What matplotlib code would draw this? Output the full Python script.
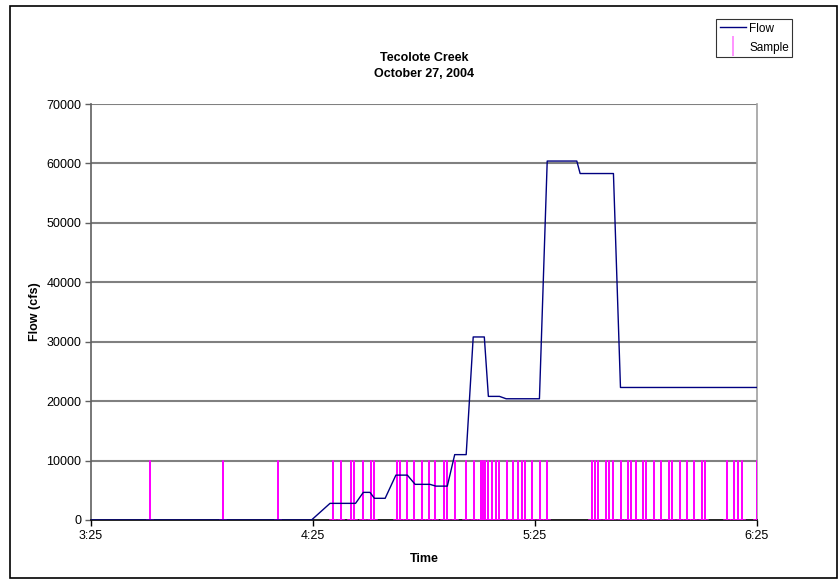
import numpy as np
import matplotlib
matplotlib.use('Agg')
import matplotlib.pyplot as plt
from matplotlib.lines import Line2D
from matplotlib.patches import Rectangle

# time in minutes after 3:25
flow_t = [0, 59.6, 64.6, 71.5, 73.6, 75.4, 76.6, 79.5, 82.4, 85.5, 87.6, 91.6, 93.2, 96.3,
          98.3, 101.4, 103.3, 106.3, 107.4, 110.4, 112.2, 121.2, 123.3, 131.3, 132.2,
          141.2, 143.1, 180]
flow_v = [0, 0, 2800, 2800, 4650, 4650, 3650, 3650, 7550, 7550, 6000, 6000, 5700, 5700,
          11000, 11000, 30800, 30800, 20800, 20800, 20400, 20400, 60400, 60400, 58300,
          58300, 22300, 22300]

sample_t = [15.9, 35.8, 50.6, 65.5, 67.5, 70.3, 71.2, 73.5, 75.7, 76.6, 82.6, 83.4, 85.3,
            87.3, 89.5, 91.3, 93.1, 95.4, 96.3, 98.3, 101.4, 103.4, 105.3, 105.9, 106.6,
            107.4, 108.4, 109.4, 110.3, 112.4, 114.1, 115.4, 116.4, 117.4, 119.3, 121.3,
            123.3, 135.3, 136.1, 137.1, 139.1, 140.1, 141.2, 143.2, 145.1, 146.0, 147.2,
            149.1, 150.1, 152.1, 154.1, 156.1, 157.1, 159.1, 161.0, 163.0, 165.1, 165.9,
            172.0, 173.9, 175.0, 175.9, 180]
sample_v = 10000

x_ticks = [0, 60, 120, 180]
x_labels = ['3:25', '4:25', '5:25', '6:25']
y_ticks = [0, 10000, 20000, 30000, 40000, 50000, 60000, 70000]

plt.rcParams['font.family'] = ['Liberation Sans', 'DejaVu Sans']

fig = plt.figure(figsize=(8.4, 5.81), dpi=100)
W, H = 840, 581
ax = fig.add_axes([91 / W, 1 - 520 / H, (757 - 91) / W, (520 - 104) / H])

# outer chart border
fig.patches.append(Rectangle((10 / W, 3 / H), 827 / W, 572 / H, transform=fig.transFigure,
                             fill=False, edgecolor='black', linewidth=1.2))

for y in y_ticks[1:]:
    ax.axhline(y, color='#808080', linewidth=1.5, zorder=1)

# sample spikes
sx, sy = [], []
for t in sample_t:
    sx += [t - 0.8, t, t, t, t + 0.8, np.nan]
    sy += [0, 0, sample_v, 0, 0, np.nan]
ax.plot(sx, sy, color='#ff00ff', linewidth=1.1, zorder=3)

ax.plot(flow_t, flow_v, color='#000080', linewidth=1.0, zorder=4)

ax.set_xlim(0, 180)
ax.set_ylim(0, 70000)
ax.set_xticks(x_ticks)
ax.set_xticklabels(x_labels)
ax.set_yticks(y_ticks)
ax.tick_params(labelsize=9, length=4, width=1, colors='black', pad=3)
ax.tick_params(axis='y', color='#606060')

ax.spines['top'].set_visible(False)
ax.spines['left'].set_color('#606060')
ax.spines['right'].set_color('#a0a0a0')
ax.spines['bottom'].set_color('black')
for s in ax.spines.values():
    s.set_linewidth(1.2)

ax.set_xlabel('Time', fontsize=9, fontweight='bold', labelpad=8)
ax.set_ylabel('Flow (cfs)', fontsize=9, fontweight='bold', labelpad=4)

fig.text(424 / W, 1 - 58 / H, 'Tecolote Creek', ha='center', va='center',
         fontsize=9, fontweight='bold')
fig.text(424 / W, 1 - 74 / H, 'October 27, 2004', ha='center', va='center',
         fontsize=9, fontweight='bold')

handles = [Line2D([], [], color='#000080', linewidth=1.0),
           Line2D([], [], color='#ff80ff', marker='|', markersize=15, linestyle='none',
                  markeredgewidth=1.2)]
leg = fig.legend(handles, ['Flow', 'Sample'], loc='upper left',
                 bbox_to_anchor=(716 / W, 1 - 19 / H), fontsize=8.5, frameon=True,
                 fancybox=False, edgecolor='black', handlelength=2.2, handletextpad=0.3,
                 borderpad=0.3, labelspacing=0.6, borderaxespad=0)
leg.get_frame().set_linewidth(0.8)

fig.savefig('out.png', dpi=100)
